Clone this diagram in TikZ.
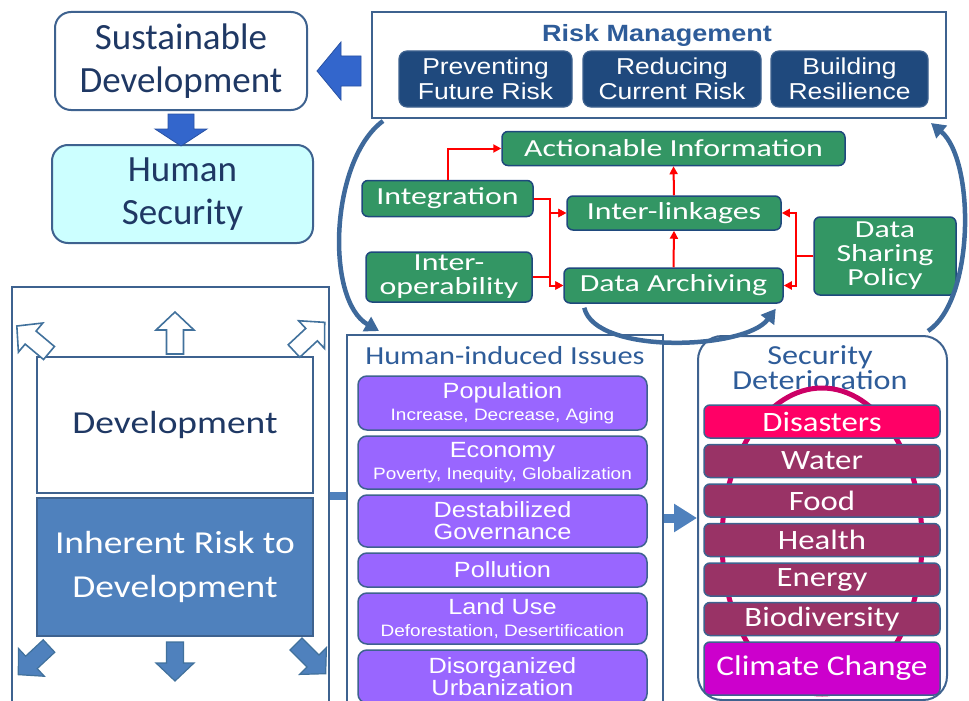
\documentclass[tikz,border=0pt]{standalone}
\usepackage{fontspec}
\setmainfont{Carlito}
\newfontfamily\cbwide{Carlito}[FakeStretch=1.17]
\newfontfamily\cbwider{Carlito}[FakeStretch=1.3]
\newfontfamily\arwide{Liberation Sans}[FakeStretch=1.15]
\usepackage{tikz}
\usetikzlibrary{arrows.meta, positioning, shapes.geometric}

\definecolor{frameblue}{RGB}{62,98,143}
\definecolor{navytext}{RGB}{31,56,100}
\definecolor{titleblue}{RGB}{46,92,153}
\definecolor{rmnavy}{RGB}{31,73,125}
\definecolor{bigblue}{RGB}{51,102,204}
\definecolor{hscyan}{RGB}{204,255,255}
\definecolor{curveblue}{RGB}{62,105,155}
\definecolor{dgreen}{RGB}{51,150,100}
\definecolor{issuepurple}{RGB}{153,102,255}
\definecolor{maroonsec}{RGB}{153,51,102}
\definecolor{disasterred}{RGB}{255,0,102}
\definecolor{climatemag}{RGB}{204,0,204}
\definecolor{ringred}{RGB}{204,0,102}
\definecolor{steelfill}{RGB}{79,129,189}
\definecolor{steelline}{RGB}{65,113,156}

\newcommand\detailfont{\arwide\fontsize{16.5}{18}\selectfont}

\tikzset{
    pics/blockarrow/.style args={#1/#2/#3/#4}{
        code={\path[pic actions] (0,-#3) -- ({#1-#2},-#3) -- ({#1-#2},-#4) -- (#1,0)
            -- ({#1-#2},#4) -- ({#1-#2},#3) -- (0,#3) -- cycle;}
    }
}

\begin{document}
\begin{tikzpicture}[
        x=1pt, y=-1pt,
        node distance=5pt,
        goalbox/.style={
            draw=frameblue,
            line width=2pt,
            rounded corners=16pt,
            align=center,
            text=navytext,
            inner sep=0pt,
            font=\fontsize{37}{43}\selectfont
        },
        frame/.style={draw=frameblue, line width=2pt, inner sep=0pt},
        rmsub/.style={
            draw=frameblue, fill=rmnavy,
            rounded corners=8pt,
            line width=1.2pt,
            text=white,
            align=center,
            minimum height=56pt,
            inner sep=0pt,
            font=\arwide\fontsize{23}{25}\selectfont
        },
        infobox/.style={
            draw=rmnavy, fill=dgreen,
            rounded corners=6pt,
            line width=1.5pt,
            text=white,
            align=center,
            inner sep=0pt,
            font=\cbwider\fontsize{24.5}{24}\selectfont
        },
        issue/.style={
            draw=frameblue, fill=issuepurple,
            rounded corners=9pt,
            line width=1.5pt,
            text=white,
            align=center,
            minimum width=289pt,
            inner sep=0pt,
            font=\arwide\fontsize{22}{22}\selectfont
        },
        secitem/.style={
            draw=frameblue, fill=maroonsec,
            rounded corners=6pt,
            line width=1.5pt,
            text=white,
            minimum width=236pt,
            minimum height=33pt,
            inner sep=0pt,
            font=\cbwide\fontsize{28}{30}\selectfont
        },
        bigarrow/.style={fill=bigblue, draw=bigblue!80!black, line width=0.8pt},
        hollowarrow/.style={fill=white, draw=steelline, line width=1.6pt},
        solidarrow/.style={fill=steelfill, draw=steelline, line width=1.2pt},
        loopback/.style={draw=curveblue, line width=4.5pt, -{Triangle[length=14pt, width=16pt]}},
        redlink/.style={draw=red, line width=2pt, -{Triangle[length=8pt, width=8pt]}},
        flow/.style={draw=steelfill, line width=9pt, -{Triangle[length=23pt, width=27pt]}},
        linkbar/.style={draw=steelfill, line width=8pt}
    ]
        \useasboundingbox (0,0) rectangle (969,701);

        % ---- Goals ----
        \node[goalbox, fill=white, minimum width=252pt, minimum height=98pt] (sustdev) at (181,61) {Sustainable\\Development};
        \node[goalbox, fill=hscyan, minimum width=261pt, minimum height=98pt] (humsec) at (182.5,194) {Human\\Security};

        % ---- Risk management ----
        \node[frame, fill=white, minimum width=574pt, minimum height=106pt] (riskmgmt) at (659,65) {};
        \node[font=\arwide\bfseries\fontsize{23.5}{26}\selectfont, text=titleblue] (rmtitle) at (657,35) {Risk Management};
        \node[rmsub, minimum width=173pt] (prevent) at (485.5,79) {Preventing\\Future Risk};
        \node[rmsub, minimum width=178pt] (reduce) at (672,79) {Reducing\\Current Risk};
        \node[rmsub, minimum width=157pt] (resil) at (849.5,79) {Building\\Resilience};

        \pic[bigarrow, rotate=180] (rmtosd) at ([xshift=-10pt, yshift=-6pt]riskmgmt.west) {blockarrow=44/24/15/29};
        \pic[bigarrow, rotate=-90] (sdtohs) at ([yshift=-3pt]sustdev.south) {blockarrow=32/17/13/26};

        % ---- Information ----
        \node[infobox, minimum width=343pt, minimum height=34pt] (actinfo) at (673.5,148.5) {Actionable Information};
        \node[infobox, minimum width=171pt, minimum height=36pt] (integ) at (447.5,198.5) {Integration};
        \node[infobox, minimum width=214pt, minimum height=34pt] (links) at (674,213) {Inter-linkages};
        \node[infobox, minimum width=166pt, minimum height=50pt] (interop) at (449,277) {Inter-\\operability};
        \node[infobox, minimum width=219pt, minimum height=35pt] (archive) at (673.5,285.5) {Data Archiving};
        \node[infobox, minimum width=142pt, minimum height=78pt] (sharing) at (885,256) {Data\\Sharing\\Policy};

        \draw[redlink] (integ.north) |- (actinfo.west);
        \draw[redlink] (integ.east) -- ++(16,0) |- (links.west);
        \draw[redlink] (integ.east) -- ++(16,0) |- (archive.west);
        \draw[redlink] (interop.east) -- ++(17,0) |- (links.west);
        \draw[redlink] (interop.east) -- ++(17,0) |- (archive.west);
        \draw[redlink] (archive.north) -- (links.south);
        \draw[redlink] (links.north) -- (actinfo.south);
        \draw[redlink] (sharing.west) -- ++(-17,0) |- (links.east);
        \draw[redlink] (sharing.west) -- ++(-17,0) |- (archive.east);

        % ---- Development ----
        \node[frame, minimum width=317pt, minimum height=418pt] (devframe) at (170.5,496) {};
        \node[frame, fill=white, text=navytext, minimum width=276pt, minimum height=136pt,
            font=\cbwide\fontsize{32}{36}\selectfont] (develop) at (175,425) {Development};
        \node[frame, fill=steelfill, text=white, minimum width=276pt, minimum height=138pt, align=center,
            font=\cbwide\fontsize{32}{44}\selectfont] (inherent) at (175,567) {Inherent Risk to\\Development};

        \pic[hollowarrow, rotate=90] (upmid) at ([yshift=2pt]develop.north) {blockarrow=42/18/8.5/19};
        \pic[hollowarrow, rotate=140] (upleft) at ([xshift=13pt, yshift=3pt]develop.north west) {blockarrow=42/18/8.5/19};
        \pic[hollowarrow, rotate=43] (upright) at ([xshift=-20pt, yshift=5pt]develop.north east) {blockarrow=42/18/8.5/19};
        \pic[solidarrow, rotate=-90] (downmid) at ([yshift=-5pt]inherent.south) {blockarrow=39/18/8.5/19};
        \pic[solidarrow, rotate=-137] (downleft) at ([xshift=13pt, yshift=-9pt]inherent.south west) {blockarrow=42/18/8.5/19};
        \pic[solidarrow, rotate=-45] (downright) at ([xshift=-18pt, yshift=-7pt]inherent.south east) {blockarrow=42/18/8.5/19};

        % ---- Human-induced issues ----
        \node[frame, minimum width=316pt, minimum height=370pt] (hissues) at (505,520) {};
        \node[font=\cbwide\fontsize{26}{28}\selectfont, text=titleblue] (hititle) at (505,356) {Human-induced Issues};

        \node[issue, minimum height=54pt] (population) at (502.5,403) {Population\\{\detailfont Increase, Decrease, Aging}};
        \node[issue, minimum height=53pt, below=4.5pt of population] (economy) {Economy\\{\detailfont Poverty, Inequity, Globalization}};
        \node[issue, minimum height=52pt, below=4.5pt of economy] (governance) {Destabilized\\Governance};
        \node[issue, minimum height=34pt, below=4.5pt of governance] (pollution) {Pollution};
        \node[issue, minimum height=51pt, below=4.5pt of pollution] (landuse) {Land Use\\{\detailfont Deforestation, Desertification}};
        \node[issue, minimum height=53pt, below=4.5pt of landuse] (urban) {Disorganized\\Urbanization};

        \draw[linkbar] (devframe.east) -- (devframe.east -| hissues.west);

        % ---- Security deterioration ----
        \node[frame, rounded corners=24pt, minimum width=249pt, minimum height=364pt] (secdet) at (822.5,518) {};
        \node[font=\cbwide\fontsize{27.5}{25}\selectfont, text=titleblue, align=center] (sdtitle) at (820,368) {Security\\Deterioration};
        \node[draw=ringred, line width=5pt, ellipse, minimum width=200pt, minimum height=306pt, inner sep=0pt] (ring) at (822,541) {};

        \node[secitem, fill=disasterred] (disasters) at (822,421.5) {Disasters};
        \node[secitem, below=of disasters] (water) {Water};
        \node[secitem, below=of water] (food) {Food};
        \node[secitem, below=of food] (health) {Health};
        \node[secitem, below=of health] (energy) {Energy};
        \node[secitem, below=of energy] (biodiv) {Biodiversity};
        \node[secitem, fill=climatemag, minimum height=53pt, font=\cbwide\fontsize{28.5}{30}\selectfont,
            below=of biodiv] (climate) {Climate Change};

        \draw[flow] (hissues.east |- secdet.west) -- (secdet.west);

        % ---- Loops ----
        \draw[loopback] ([xshift=12pt, yshift=-2pt]riskmgmt.south west)
            .. controls (330,160) and (325,300) .. ([xshift=33pt, yshift=3pt]hissues.north west);
        \draw[loopback] ([xshift=-20pt, yshift=4pt]secdet.north east)
            .. controls (975,300) and (975,160) .. ([xshift=-16pt, yshift=-4pt]riskmgmt.south east);
        \draw[loopback] ([xshift=21pt, yshift=-4pt]archive.south west)
            .. controls (595,355) and (745,350) .. ([xshift=-8pt, yshift=-5pt]archive.south east);

    \end{tikzpicture}
\end{document}
